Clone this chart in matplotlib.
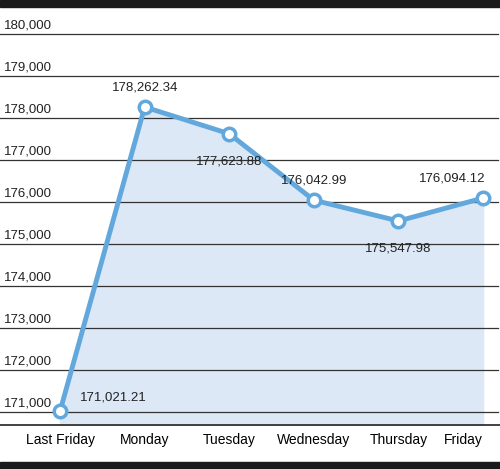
import matplotlib.pyplot as plt

days = ["Last Friday", "Monday", "Tuesday", "Wednesday", "Thursday", "Friday"]
values = [171021.21, 178262.34, 177623.88, 176042.99, 175547.98, 176094.12]
yticks = [171000, 172000, 173000, 174000, 175000, 176000, 177000, 178000, 179000, 180000]
# label offsets (points) per value
offsets = [(38, 10), (0, 14), (0, -20), (0, 14), (0, -20), (-22, 14)]

plt.rcParams['font.family'] = ['Liberation Sans Narrow', 'Liberation Sans', 'DejaVu Sans']

fig = plt.figure(figsize=(5.0, 4.69), dpi=100)
ax = fig.add_axes([0, (469 - 425) / 469, 1, (425 - 7) / 469])
x = list(range(len(days)))
ax.set_xlim(-0.71, 5.2)
ax.set_ylim(170690, 180643)

for t in yticks:
    ax.axhline(t, xmax=0.995, color='#333333', lw=0.9, zorder=1)
    ax.text(-0.66, t + 60, f"{t:,}", fontsize=9.5, ha='left', va='bottom', color='#222222')

ax.fill_between(x, values, 170690, color='#dce8f6', zorder=0)
ax.plot(x, values, color='#62a8dc', lw=3.5, marker='o', ms=9,
        mfc='white', mec='#62a8dc', mew=2.5, zorder=3)
for xi, v, off in zip(x, values, offsets):
    ax.annotate(f"{v:,.2f}", (xi, v), xytext=off, textcoords='offset points',
                ha='center', va='center', fontsize=9.5, color='#222222')

ax.set_yticks([])
ax.set_xticks(x)
ax.set_xticklabels(days, fontsize=10)
ax.tick_params(axis='x', length=0, pad=6)
ax.get_xticklabels()[-1].set_ha('right')
ax.get_xticklabels()[-1].set_x(5.17)
for s in ['top', 'left', 'right']:
    ax.spines[s].set_visible(False)
ax.spines['bottom'].set_color('#222222')
ax.spines['bottom'].set_linewidth(1.2)

fig.patches.append(plt.Rectangle((0, 1 - 7 / 469), 1, 7 / 469, transform=fig.transFigure, color='#1a1a1a'))
fig.patches.append(plt.Rectangle((0, 0), 1, 7 / 469, transform=fig.transFigure, color='#1a1a1a'))

fig.savefig("out.png", dpi=100)
